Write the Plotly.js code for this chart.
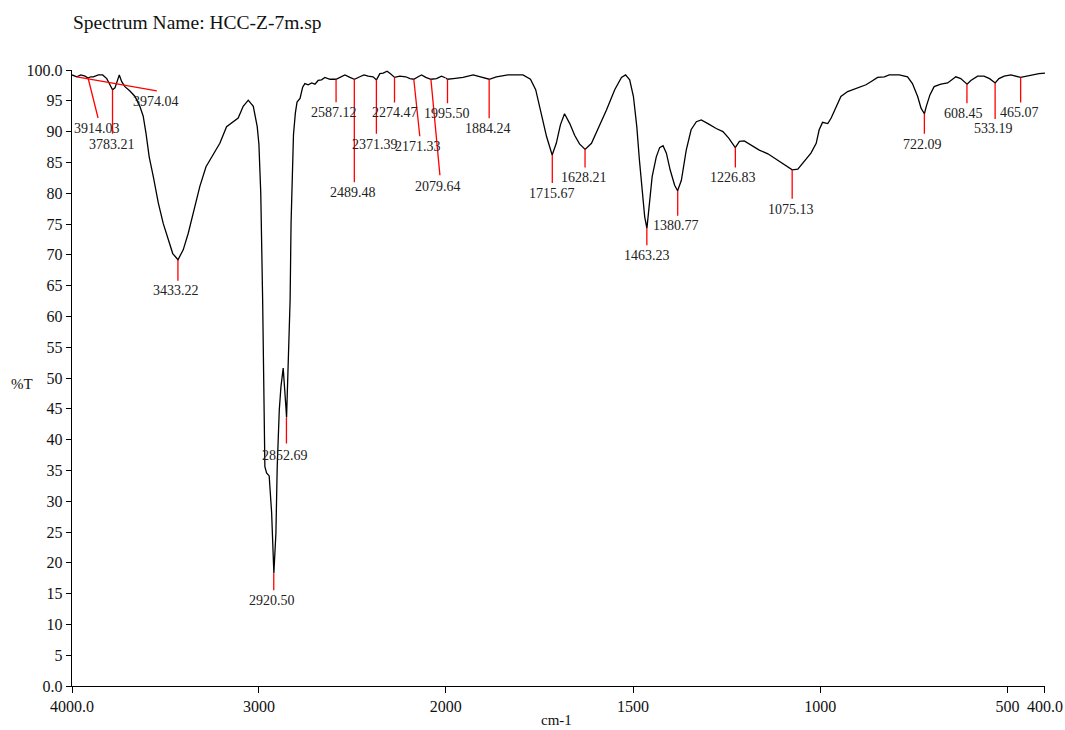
<!DOCTYPE html>
<html>
<head>
<meta charset="utf-8">
<script src="https://cdn.plot.ly/plotly-3.0.1.min.js"></script>
<style>html,body{margin:0;padding:0;background:#fff;}#chart{width:1065px;height:730px;}</style>
</head>
<body>
<div id="chart"></div>
<script>
// Spectrum (wavenumber in cm-1, %T)
const wavenumbers = [
 4000,3974,3953,3930,3914,3900,3886,3859,3836,3814,3797,3783,3770,3758,3747,3734,3717,3690,3663,3637,
 3619,3604,3587,3565,3538,3512,3485,3461,3433,3405,3378,3351,3316,3283,3244,3209,3173,3146,3111,3084,
 3057,3030,3009,3000,2990,2980,2974,2968,2959,2945,2932,2923,2920,2909,2902,2891,2882,2870,2862,2856,
 2852,2843,2838,2833,2828,2822,2815,2805,2796,2780,2766,2754,2736,2718,2700,2683,2665,2647,2620,2587,
 2567,2540,2513,2489,2460,2438,2415,2389,2371,2353,2335,2314,2296,2274,2246,2214,2192,2171,2148,2130,
 2107,2080,2050,2023,2000,1995.5,1980,1954,1927,1909,1884,1865,1851,1834,1794,1774,1760,1745,1731,1716,
 1705,1694,1683,1669,1656,1643,1628,1611,1594,1571,1549,1531,1520,1509,1499,1490,1483,1475,1469,1463,
 1458,1449,1438,1429,1420,1411,1401,1389,1381,1371,1358,1345,1331,1318,1300,1278,1260,1244,1227,1216,
 1203,1185,1163,1140,1118,1096,1075,1060,1043,1025,1011,1003,994,980,971,958,945,927,909,891,
 878,865,847,829,816,789,767,754,740,731,722,717,707,696,678,660,638,625,608,598,
 580,563,548,533,523,509,491,465,451,434,416,400
];
const transmittance = [
 99.2,98.9,99.2,99.0,98.7,98.9,98.9,99.2,99.2,98.6,97.6,96.8,97.1,98.4,99.2,98.1,97.3,96.6,95.7,94.1,
 92.5,89.7,85.9,82.7,78.4,75.1,72.4,70.2,69.2,70.8,73.5,76.7,81.1,84.3,86.2,88.1,90.8,91.4,92.2,94.1,
 95.1,94.1,90.8,88.0,80.0,62.7,49.0,35.6,34.6,34.1,28.2,22.0,18.3,24.8,35.6,44.8,48.6,51.6,48.8,45.5,
 43.6,51.8,60.0,62.7,75.0,84.0,89.5,93.0,94.8,95.4,97.2,97.8,97.6,97.9,97.7,98.3,98.4,98.8,98.5,98.5,
 98.8,99.2,98.8,98.5,98.9,99.2,99.0,98.9,98.4,99.4,99.5,99.8,99.4,98.8,99.0,98.9,98.6,98.5,98.9,99.2,
 98.8,98.5,98.6,99.0,98.7,98.5,98.6,98.8,99.2,98.9,98.5,98.9,99.0,99.2,99.2,98.5,96.8,93.0,89.2,86.2,
 88.1,91.1,92.9,91.3,89.4,88.0,87.1,88.1,90.3,93.5,96.8,98.8,99.2,98.4,95.7,90.8,85.4,80.0,76.2,74.3,
 77.3,82.7,85.9,87.4,87.7,86.5,83.8,81.3,80.4,82.1,87.0,90.3,91.6,91.9,91.3,90.5,90.0,88.9,87.4,88.4,
 88.5,87.8,87.0,86.4,85.5,84.6,83.8,83.9,85.1,86.5,88.1,90.3,91.5,91.3,92.2,94.1,95.7,96.5,96.9,97.2,
 97.6,98.1,98.8,98.9,99.2,99.2,98.9,97.8,95.7,93.8,92.9,94.1,96.0,97.3,97.7,97.9,98.9,98.6,97.7,98.3,
 99.0,99.0,98.6,97.9,98.6,99.0,99.2,98.8,99.0,99.2,99.4,99.5
];

// Labelled peaks
const peakWavenumbers = [3974.04,3914.03,3783.21,3433.22,2920.50,2852.69,2587.12,2489.48,2371.39,2274.47,2171.33,2079.64,
 1995.50,1884.24,1715.67,1628.21,1463.23,1380.77,1226.83,1075.13,722.09,608.45,533.19,465.07];
const peakTransmittance = [98.9,98.7,96.8,69.2,18.3,43.6,98.5,98.5,98.4,98.8,98.5,98.5,
 98.5,98.5,86.2,87.1,74.3,80.4,87.4,83.8,92.9,97.7,97.9,98.8];

// Axis ticks
const yTickValues = [0,5,10,15,20,25,30,35,40,45,50,55,60,65,70,75,80,85,90,95,100];
const yTickLabels = ['0.0','5','10','15','20','25','30','35','40','45','50','55','60','65','70','75','80','85','90','95','100.0'];
const xTickValuesHigh = [4000,3000,2000];
const xTickLabelsHigh = ['4000.0','3000','2000'];
const xTickValuesLow = [1500,1000,500,400];
const xTickLabelsLow = ['1500','1000','500','400.0'];

// Peak label placement (pixel offsets from the peak): [lineDx, lineDy, textDx, textDy]
const labelOffsets = [
 [80,14,79,25],[10,40,9,50],[0,44,-1,55],[0,21,-2,31],[0,17,-2,27],[0,26,-1.5,38],
 [0,23,-2,33],[0,103,-1,113],[0,54,-1.5,65],[0,25,0,35],[6,57,4,67],[9,96,7,107],
 [0,24,0,34],[0,39,-1,49],[0,28,0,38],[0,18,-1,28],[0,17,0,27],[0,25,-2,35],
 [0,20,-2.5,30],[0,29,-1,40],[0,20,-2,31],[0,19,-3,29],[0,36,-2,46],[0,25,-1.5,35]
];

const SERIF = '"Liberation Serif", "Times New Roman", serif';
const split = 374/973.5;

const hiX = [], hiY = [], loX = [], loY = [];
wavenumbers.forEach((w, i) => {
  if (w >= 2000) { hiX.push(w); hiY.push(transmittance[i]); }
  if (w <= 2000) { loX.push(w); loY.push(transmittance[i]); }
});

const lineStyle = {color: '#000000', width: 1.3};
const traces = [
  {x: hiX, y: hiY, xaxis: 'x', yaxis: 'y', mode: 'lines', line: lineStyle, hoverinfo: 'skip', showlegend: false},
  {x: loX, y: loY, xaxis: 'x2', yaxis: 'y', mode: 'lines', line: lineStyle, hoverinfo: 'skip', showlegend: false}
];

const shapes = [], annotations = [];
peakWavenumbers.forEach((w, i) => {
  const ax = w >= 2000 ? 'x' : 'x2';
  const o = labelOffsets[i];
  shapes.push({
    type: 'line', xref: ax, yref: 'y',
    xsizemode: 'pixel', xanchor: w, x0: 0, x1: o[0],
    ysizemode: 'pixel', yanchor: peakTransmittance[i], y0: 0, y1: -o[1],
    line: {color: '#ff0000', width: 1.3}
  });
  annotations.push({
    xref: ax, yref: 'y', x: w, y: peakTransmittance[i],
    xshift: o[2], yshift: -o[3], showarrow: false,
    text: w.toFixed(2), xanchor: 'center', yanchor: 'middle',
    font: {family: SERIF, size: 14, color: '#222222'}
  });
});

annotations.push({
  xref: 'paper', yref: 'paper', x: -0.051, y: 0.49, showarrow: false,
  text: '%T', xanchor: 'center', yanchor: 'middle',
  font: {family: SERIF, size: 15, color: '#111111'}
});
annotations.push({
  xref: 'paper', yref: 'paper', x: 0.498, y: -0.055, showarrow: false,
  text: 'cm-1', xanchor: 'center', yanchor: 'middle',
  font: {family: SERIF, size: 15, color: '#111111'}
});

const axisCommon = {
  showgrid: false, zeroline: false, showline: true, linecolor: '#000000', linewidth: 1.2,
  ticks: 'outside', ticklen: 6, tickcolor: '#000000', tickwidth: 1,
  tickfont: {family: SERIF, size: 16, color: '#111111'}, tickmode: 'array', fixedrange: true
};

const layout = {
  width: 1065, height: 730,
  margin: {l: 72, r: 19.5, t: 70, b: 44},
  paper_bgcolor: '#ffffff', plot_bgcolor: '#ffffff',
  showlegend: false,
  title: {
    text: 'Spectrum Name: HCC-Z-7m.sp', x: 73/1065, xanchor: 'left', xref: 'container',
    y: 1 - 22/730, yanchor: 'middle', yref: 'container',
    font: {family: SERIF, size: 19.5, color: '#111111'}
  },
  xaxis: Object.assign({}, axisCommon, {
    domain: [0, split], range: [4000, 2000], anchor: 'y',
    tickvals: xTickValuesHigh, ticktext: xTickLabelsHigh
  }),
  xaxis2: Object.assign({}, axisCommon, {
    domain: [split, 1], range: [2000, 400], anchor: 'y',
    tickvals: xTickValuesLow, ticktext: xTickLabelsLow
  }),
  yaxis: Object.assign({}, axisCommon, {
    range: [0, 100], anchor: 'x', ticklen: 5,
    tickvals: yTickValues, ticktext: yTickLabels
  }),
  shapes: shapes,
  annotations: annotations
};

Plotly.newPlot('chart', traces, layout, {displayModeBar: false, staticPlot: true});
</script>
</body>
</html>
